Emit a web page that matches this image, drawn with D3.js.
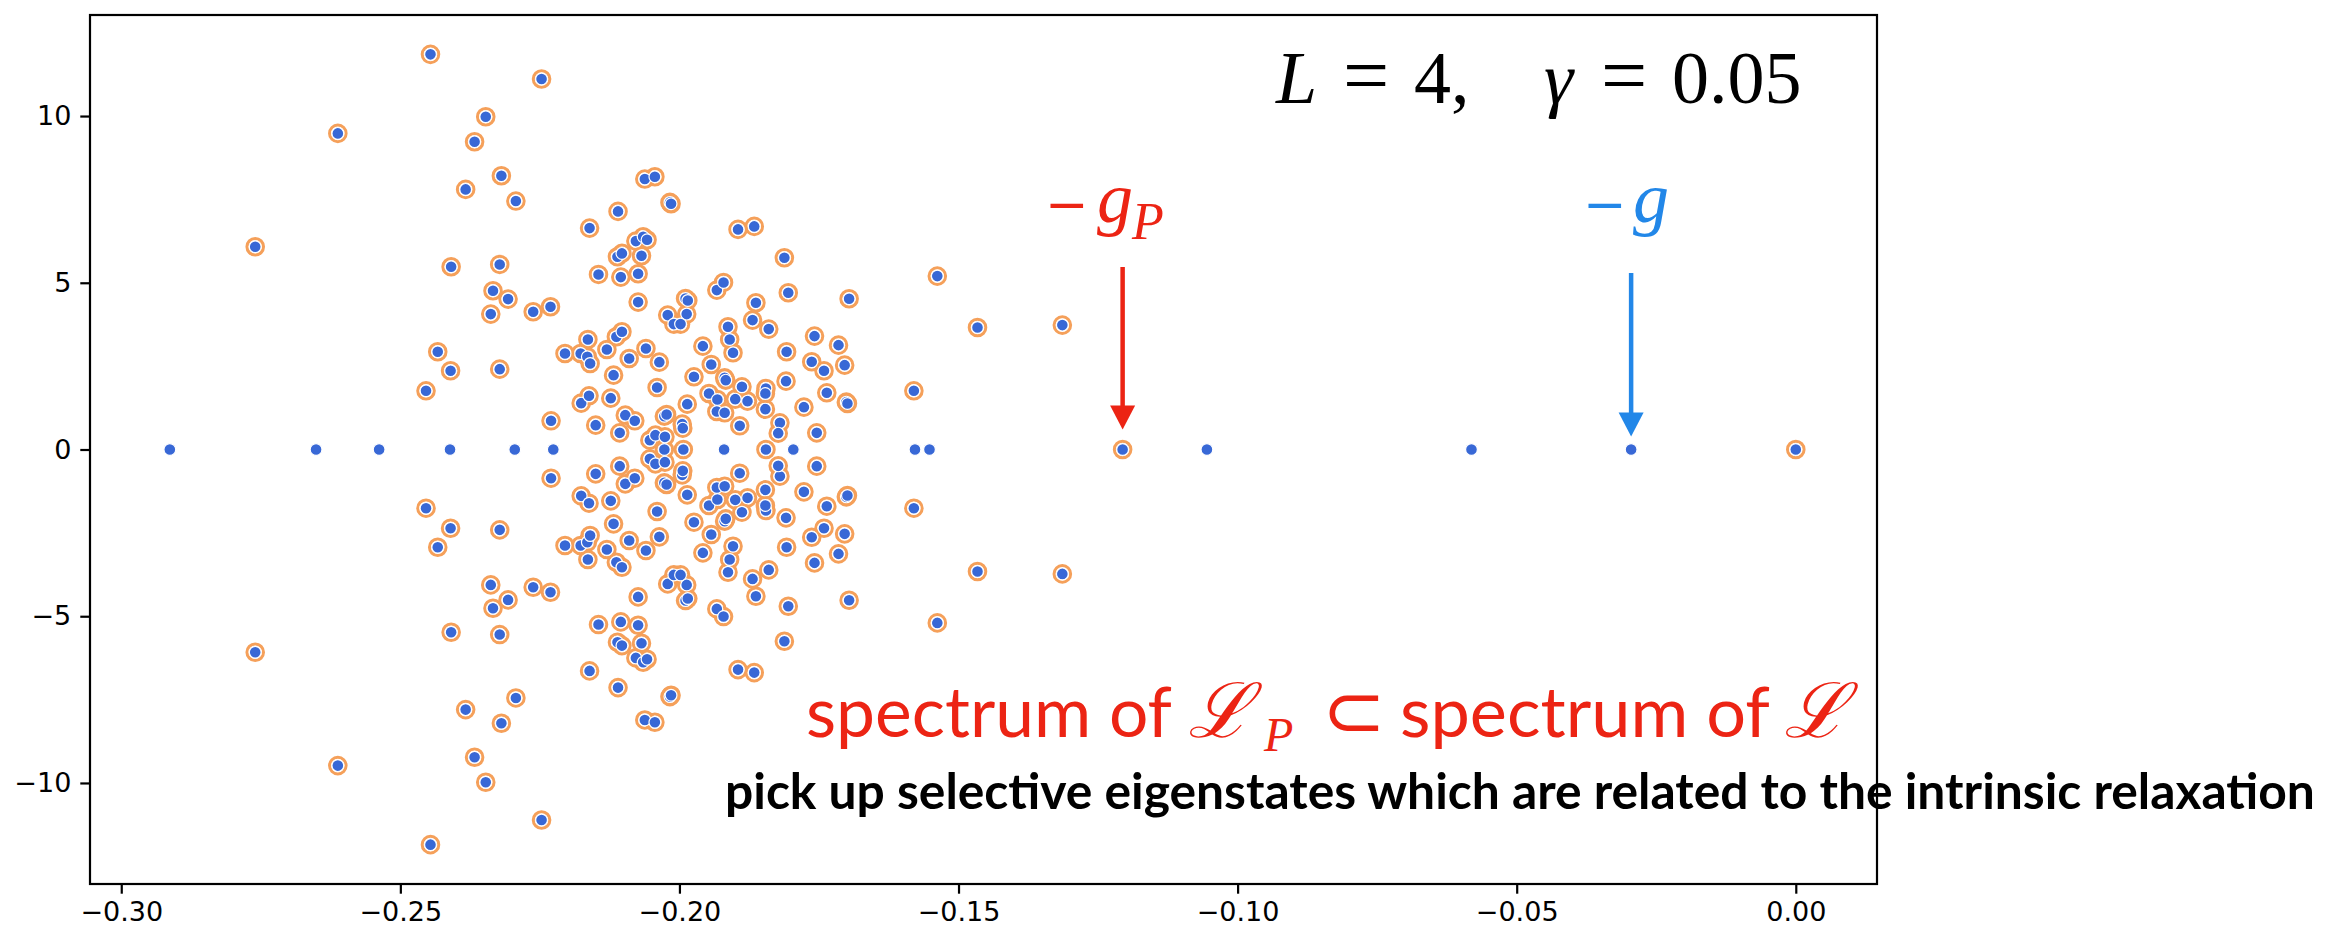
<!DOCTYPE html>
<html>
<head>
<meta charset="utf-8">
<script src="https://cdn.jsdelivr.net/npm/d3@7"></script>
<style>
  body { margin: 0; background: #fff; }
  .tick text { font-family: "DejaVu Sans", sans-serif; font-size: 27px; fill: #000; }
  .tick line { stroke: #000; stroke-width: 2.2; }
</style>
</head>
<body>
<div id="chart"></div>
<script>
var svgWidth = 2340;
var svgHeight = 929;

var margin = { top: 15, right: 463, bottom: 45, left: 90 };
var width = svgWidth - margin.left - margin.right;
var height = svgHeight - margin.top - margin.bottom;

// complex eigenvalues (upper half); each one is in both spectra
var pairRe = [
  -0.2760, -0.2612, -0.2446, -0.2247, -0.2347, -0.2367, -0.2319, -0.2383, -0.2293, -0.2409,
  -0.2322, -0.2334, -0.2307, -0.2338, -0.2262, -0.2231, -0.2433, -0.2410, -0.2322, -0.2454,
  -0.2230, -0.2205, -0.2062, -0.2044, -0.2017, -0.2015, -0.2110, -0.2161, -0.2078, -0.2065,
  -0.2058, -0.2111, -0.2103, -0.2068, -0.2145, -0.2105, -0.2074, -0.2074, -0.1989, -0.1985,
  -0.1933, -0.1895, -0.1866, -0.1812, -0.1921, -0.1805, -0.1863, -0.1696, -0.2021, -0.1987,
  -0.2010, -0.1998, -0.2164, -0.2113, -0.2103, -0.2177, -0.2165, -0.2160, -0.2130, -0.2090,
  -0.2060, -0.2036, -0.1958, -0.1943, -0.2118, -0.2040, -0.1974, -0.1919, -0.1917, -0.2176,
  -0.2162, -0.2123, -0.1986, -0.1947, -0.1932, -0.1933, -0.1919, -0.2150, -0.2097, -0.2080,
  -0.2107, -0.2027, -0.2023, -0.1995, -0.1994, -0.2053, -0.2043, -0.2026, -0.1913, -0.1869,
  -0.1840, -0.1910, -0.1904, -0.1808, -0.1758, -0.1715, -0.1763, -0.1741, -0.1704, -0.1888,
  -0.1845, -0.1846, -0.1809, -0.1736, -0.1701, -0.1699, -0.1900, -0.1878, -0.1846, -0.1777,
  -0.1892, -0.1820, -0.1823, -0.1754, -0.1538, -0.1466, -0.1314, -0.1580
];
var pairImUpper = [
  6.08, 9.48, 11.85, 11.11, 9.98, 9.23, 8.21, 7.80, 7.45, 5.48,
  5.55, 4.76, 4.51, 4.06, 4.13, 4.28, 2.93, 2.36, 2.41, 1.76,
  0.86, 2.88, 8.11, 8.18, 7.41, 7.37, 7.14, 6.64, 6.25, 6.38,
  6.29, 5.78, 5.88, 5.81, 5.25, 5.17, 5.27, 4.42, 4.53, 4.47,
  4.78, 6.60, 6.69, 5.75, 5.01, 4.70, 4.40, 4.52, 4.03, 4.06,
  3.76, 3.76, 3.30, 3.38, 3.53, 2.88, 2.78, 2.58, 3.00, 2.73,
  3.03, 2.62, 3.10, 2.55, 2.23, 1.86, 2.18, 2.15, 2.08, 1.39,
  1.61, 1.54, 1.36, 1.68, 1.50, 1.14, 1.10, 0.73, 1.03, 0.86,
  0.50, 1.00, 1.05, 0.76, 0.64, 0.28, 0.43, 0.38, 3.68, 3.88,
  3.61, 3.30, 2.90, 2.93, 3.40, 3.13, 2.63, 2.36, 2.53, 1.88,
  1.83, 1.68, 2.05, 1.70, 1.42, 1.38, 1.51, 1.45, 1.21, 1.27,
  0.71, 0.80, 0.49, 0.50, 5.20, 3.66, 3.73, 1.76
];
// the conjugate partners (lower half of the picture)
var pairImLower = [
  -6.08, -9.48, -11.85, -11.11, -9.98, -9.23, -8.21, -7.80, -7.45, -5.48,
  -5.55, -4.76, -4.51, -4.06, -4.13, -4.28, -2.93, -2.36, -2.41, -1.76,
  -0.86, -2.88, -8.11, -8.18, -7.41, -7.37, -7.14, -6.64, -6.25, -6.38,
  -6.29, -5.78, -5.88, -5.81, -5.25, -5.17, -5.27, -4.42, -4.53, -4.47,
  -4.78, -6.60, -6.69, -5.75, -5.01, -4.70, -4.40, -4.52, -4.03, -4.06,
  -3.76, -3.76, -3.30, -3.38, -3.53, -2.88, -2.78, -2.58, -3.00, -2.73,
  -3.03, -2.62, -3.10, -2.55, -2.23, -1.86, -2.18, -2.15, -2.08, -1.39,
  -1.61, -1.54, -1.36, -1.68, -1.50, -1.14, -1.10, -0.73, -1.03, -0.86,
  -0.50, -1.00, -1.05, -0.76, -0.64, -0.28, -0.43, -0.38, -3.68, -3.88,
  -3.61, -3.30, -2.90, -2.93, -3.40, -3.13, -2.63, -2.36, -2.53, -1.88,
  -1.83, -1.68, -2.05, -1.70, -1.42, -1.38, -1.51, -1.45, -1.21, -1.27,
  -0.71, -0.80, -0.49, -0.50, -5.20, -3.66, -3.73, -1.76
];
// real eigenvalues shared by both spectra
var realBothRe = [-0.2027, -0.1993, -0.1845, -0.1206, 0.0];
// real eigenvalues of L only (blue dots without ring)
var realOnlyRe = [-0.2913, -0.2651, -0.2538, -0.2411, -0.2295, -0.2226, -0.1920,
  -0.1796, -0.1578, -0.1552, -0.1055, -0.0581, -0.0295];

var xTicks = [-0.30, -0.25, -0.20, -0.15, -0.10, -0.05, 0.00];
var yTicks = [-10, -5, 0, 5, 10];

var gP = -0.1206;
var gL = -0.0295;

var orange = "#f5a05a";
var blue = "#3868d6";
var red = "#ec2414";
var arrowBlue = "#2287e8";

// build point lists
var specP = [];
pairRe.forEach(function (re, i) {
  specP.push({ re: re, im: pairImUpper[i] });
  specP.push({ re: re, im: pairImLower[i] });
});
realBothRe.forEach(function (re) { specP.push({ re: re, im: 0 }); });

var specL = specP.slice();
realOnlyRe.forEach(function (re) { specL.push({ re: re, im: 0 }); });

var svg = d3.select("#chart")
  .append("svg")
  .attr("width", svgWidth)
  .attr("height", svgHeight);

var chartGroup = svg.append("g")
  .attr("transform", `translate(${margin.left}, ${margin.top})`);

var xScale = d3.scaleLinear()
  .domain([-0.3056, 0.01455])
  .range([0, width]);

var yScale = d3.scaleLinear()
  .domain([-13.03, 13.03])
  .range([height, 0]);

var bottomAxis = d3.axisBottom(xScale)
  .tickValues(xTicks)
  .tickFormat(d3.format(".2f"))
  .tickSize(9.7)
  .tickPadding(8)
  .tickSizeOuter(0);

var leftAxis = d3.axisLeft(yScale)
  .tickValues(yTicks)
  .tickFormat(d3.format("d"))
  .tickSize(9.7)
  .tickPadding(9)
  .tickSizeOuter(0);

chartGroup.append("g")
  .attr("transform", `translate(0,${height})`)
  .call(bottomAxis)
  .call(g => g.select(".domain").remove());

chartGroup.append("g")
  .call(leftAxis)
  .call(g => g.select(".domain").remove());

// spectrum of L_P: orange rings
chartGroup.selectAll("circle.lp")
  .data(specP)
  .enter()
  .append("circle")
  .attr("class", "lp")
  .attr("cx", d => xScale(d.re))
  .attr("cy", d => yScale(d.im))
  .attr("r", 8.3)
  .attr("fill", "none")
  .attr("stroke", orange)
  .attr("stroke-width", 3);

// spectrum of L: blue dots
chartGroup.selectAll("circle.l")
  .data(specL)
  .enter()
  .append("circle")
  .attr("class", "l")
  .attr("cx", d => xScale(d.re))
  .attr("cy", d => yScale(d.im))
  .attr("r", 5.9)
  .attr("fill", blue)
  .attr("stroke", "#fff")
  .attr("stroke-width", 1.2);

// frame
chartGroup.append("rect")
  .attr("width", width)
  .attr("height", height)
  .attr("fill", "none")
  .attr("stroke", "#000")
  .attr("stroke-width", 2.2);

// arrows
function arrow(xv, yTop, yTip, color) {
  var x = xScale(xv);
  chartGroup.append("line")
    .attr("x1", x).attr("x2", x)
    .attr("y1", yTop).attr("y2", yTip - 20)
    .attr("stroke", color)
    .attr("stroke-width", 4.5);
  chartGroup.append("path")
    .attr("d", `M${x - 12.5},${yTip - 24} L${x + 12.5},${yTip - 24} L${x},${yTip} Z`)
    .attr("fill", color);
}
arrow(gP, 267 - margin.top, yScale(0) - 20, red);
arrow(gL, 273 - margin.top, yScale(0) - 13, arrowBlue);

// math labels
var serif = "'Liberation Serif', 'Times New Roman', serif";
var dejavu = "'DejaVu Sans', sans-serif";

var lab = svg.append("text")
  .attr("y", 103)
  .attr("font-family", serif)
  .attr("font-size", 74)
  .attr("fill", "#000");
lab.append("tspan").attr("x", 1276).attr("font-style", "italic").text("L");
lab.append("tspan").attr("x", 1343).attr("font-size", 82).text("=");
lab.append("tspan").attr("x", 1414).text("4,");
lab.append("tspan").attr("x", 1544).attr("font-style", "italic").text("γ");
lab.append("tspan").attr("x", 1601).attr("font-size", 82).text("=");
lab.append("tspan").attr("x", 1672).text("0.05");

var gpLab = svg.append("text")
  .attr("y", 222)
  .attr("font-family", serif)
  .attr("font-size", 72)
  .attr("fill", red);
gpLab.append("tspan").attr("x", 1045).attr("font-family", dejavu).attr("font-size", 52).text("−");
gpLab.append("tspan").attr("x", 1097).attr("font-style", "italic").text("g");
gpLab.append("tspan").attr("x", 1132).attr("dy", 17).attr("font-size", 52).attr("font-style", "italic").text("P");

var gLab = svg.append("text")
  .attr("y", 222)
  .attr("font-family", serif)
  .attr("font-size", 72)
  .attr("fill", arrowBlue);
gLab.append("tspan").attr("x", 1583).attr("font-family", dejavu).attr("font-size", 52).text("−");
gLab.append("tspan").attr("x", 1633).attr("font-style", "italic").text("g");

// fit a text run to a measured width
function fitWidth(t, w) {
  var len = t.node().getComputedTextLength();
  t.attr("font-size", +t.attr("font-size") * w / len);
}

var sans = "Lato, 'Open Sans', sans-serif";

var s1 = svg.append("text")
  .attr("x", 806).attr("y", 737)
  .attr("font-family", sans).attr("font-size", 80)
  .attr("fill", red)
  .text("spectrum of");
fitWidth(s1, 366);

svg.append("text")
  .attr("x", 1188).attr("y", 737)
  .attr("font-family", "'DejaVu Serif', serif").attr("font-size", 76)
  .attr("font-style", "italic")
  .attr("fill", red)
  .text("ℒ");
svg.append("text")
  .attr("x", 1264).attr("y", 751)
  .attr("font-family", serif).attr("font-size", 48)
  .attr("font-style", "italic")
  .attr("fill", red)
  .text("P");
svg.append("text")
  .attr("x", 1322).attr("y", 737)
  .attr("font-family", dejavu).attr("font-size", 76)
  .attr("fill", red)
  .text("⊂");

var s2 = svg.append("text")
  .attr("x", 1400).attr("y", 737)
  .attr("font-family", sans).attr("font-size", 80)
  .attr("fill", red)
  .text("spectrum of");
fitWidth(s2, 370);

svg.append("text")
  .attr("x", 1784).attr("y", 737)
  .attr("font-family", "'DejaVu Serif', serif").attr("font-size", 76)
  .attr("font-style", "italic")
  .attr("fill", red)
  .text("ℒ");

var note = svg.append("text")
  .attr("x", 725).attr("y", 809)
  .attr("font-family", sans).attr("font-size", 50)
  .attr("font-weight", "bold")
  .attr("fill", "#000")
  .text("pick up selective eigenstates which are related to the intrinsic relaxation");
fitWidth(note, 1590);
</script>
</body>
</html>
